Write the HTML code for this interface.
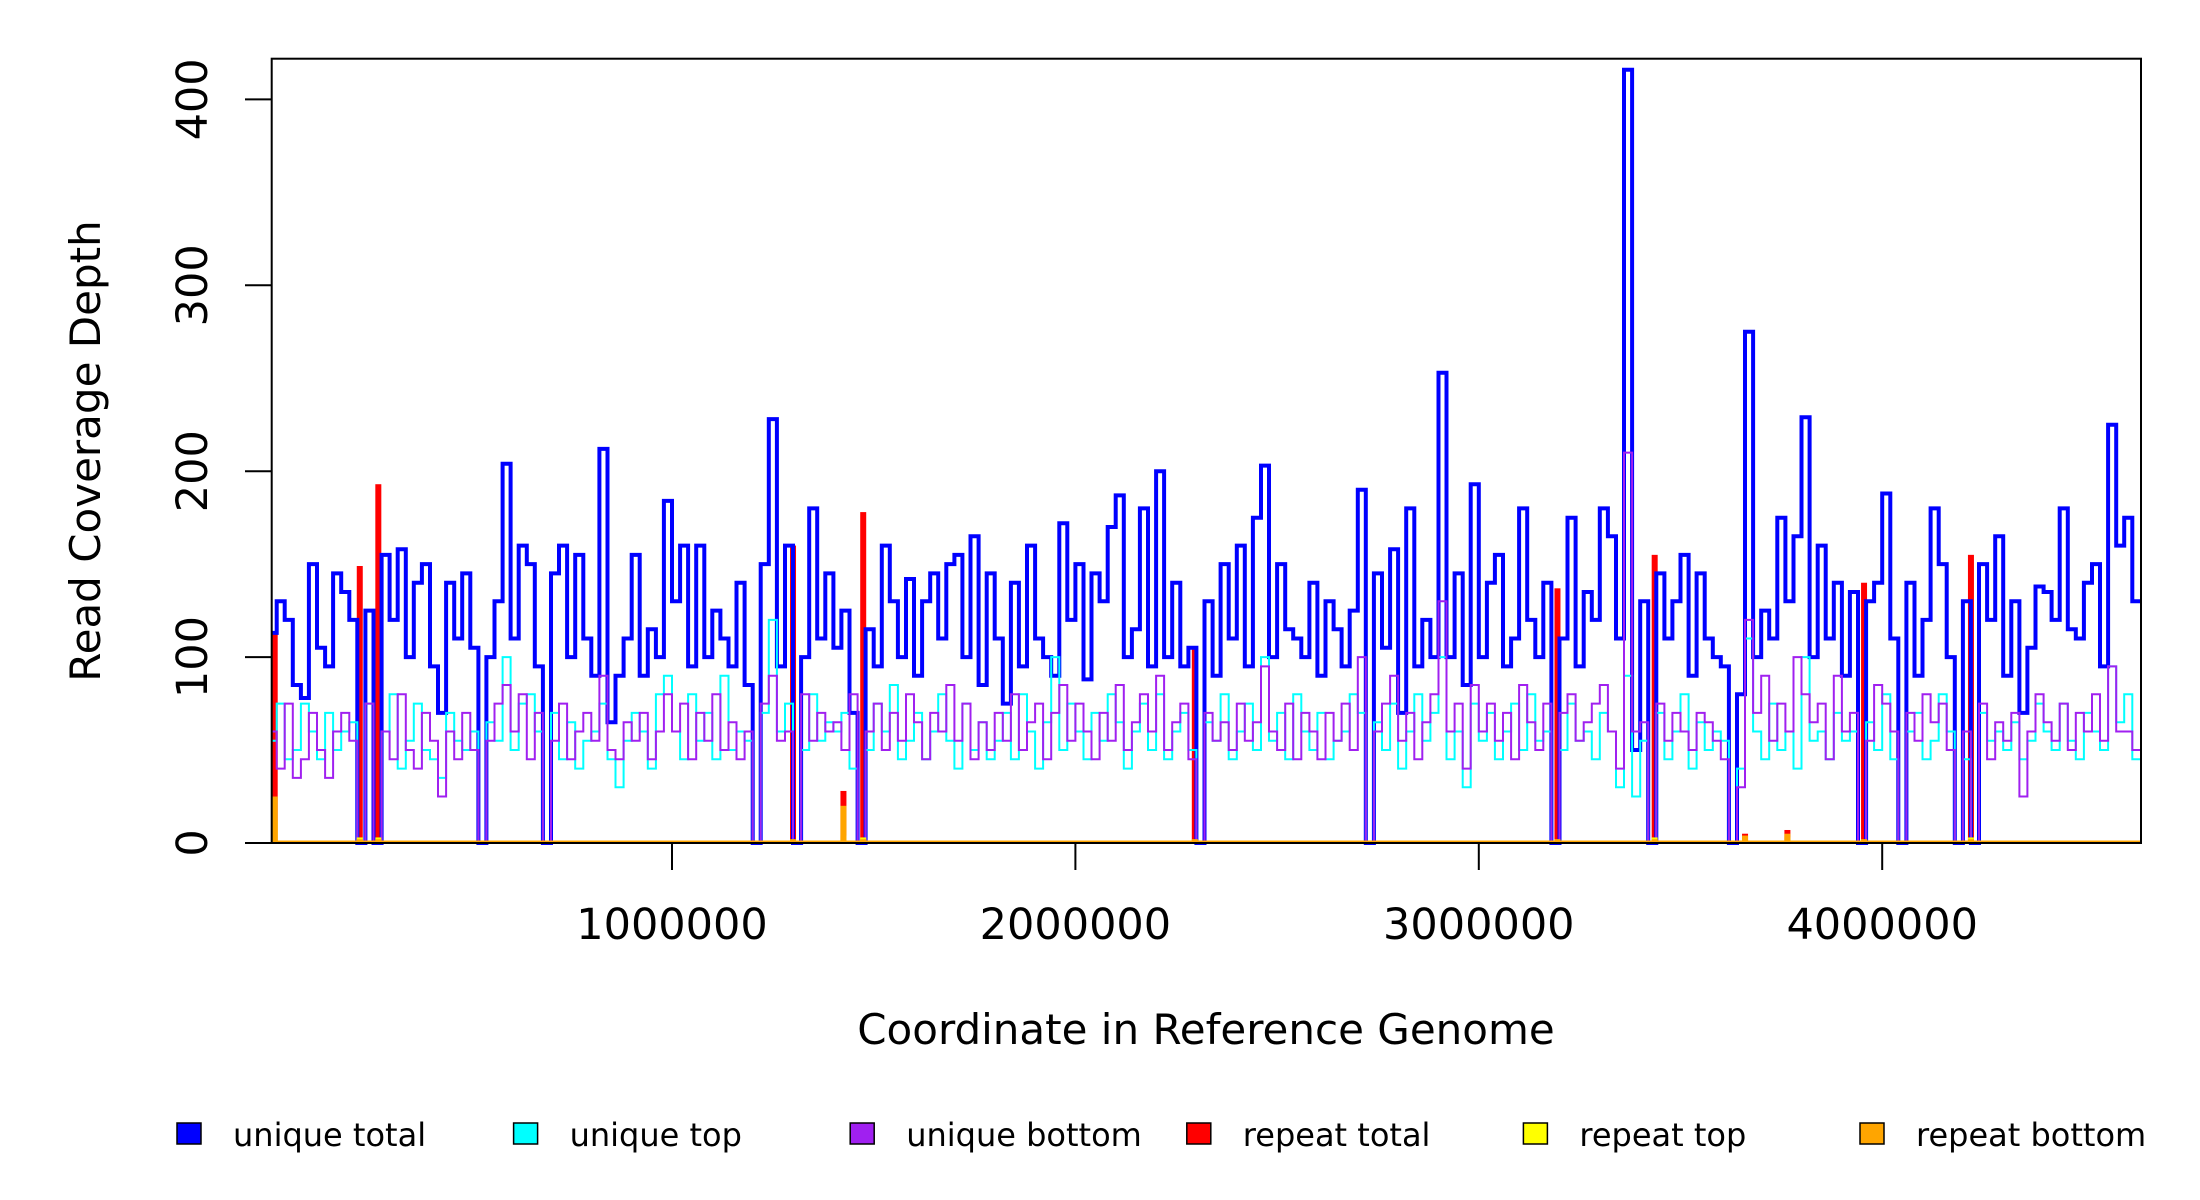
<!DOCTYPE html>
<html><head><meta charset="utf-8"><style>
body{margin:0;background:#fff}
svg{display:block}
text{font-family:"DejaVu Sans","Liberation Sans",sans-serif;fill:#000}
</style></head><body>
<svg id="chart" width="2200" height="1200" viewBox="0 0 2200 1200" xmlns="http://www.w3.org/2000/svg">
<g id="marks"></g>
<rect x="271.7" y="58.7" width="1869.3" height="784.3" fill="none" stroke="#000" stroke-width="2"/>
<g id="axes"></g>
<text transform="translate(100,451) rotate(-90)" text-anchor="middle" font-size="42">Read Coverage Depth</text>
<text x="1206" y="1044" text-anchor="middle" font-size="42">Coordinate in Reference Genome</text>
<g id="legend"></g>
</svg>
<script>
const binSize = 20000;
const uniqueTotal = [
113,130,120,85,78,150,105,95,145,135,
120,0,125,0,155,120,158,100,140,150,
95,70,140,110,145,105,0,100,130,204,
110,160,150,95,0,145,160,100,155,110,
90,212,65,90,110,155,90,115,100,184,
130,160,95,160,100,125,110,95,140,85,
0,150,228,95,160,0,100,180,110,145,
105,125,70,0,115,95,160,130,100,142,
90,130,145,110,150,155,100,165,85,145,
110,75,140,95,160,110,100,90,172,120,
150,88,145,130,170,187,100,115,180,95,
200,100,140,95,105,0,130,90,150,110,
160,95,175,203,100,150,115,110,100,140,
90,130,115,95,125,190,0,145,105,158,
70,180,95,120,100,253,100,145,85,193,
100,140,155,95,110,180,120,100,140,0,
110,175,95,135,120,180,165,110,416,50,
130,0,145,110,130,155,90,145,110,100,
95,0,80,275,100,125,110,175,130,165,
229,100,160,110,140,90,135,0,130,140,
188,110,0,140,90,120,180,150,100,0,
130,0,150,120,165,90,130,70,105,138,
135,120,180,115,110,140,150,95,225,160,
175,130];
const uniqueTop = [
55,75,45,50,75,60,45,70,50,60,
65,0,75,0,60,80,40,55,75,50,
45,35,70,55,50,60,0,65,55,100,
50,75,80,60,0,70,45,65,40,55,
60,75,45,30,55,70,60,40,80,90,
60,45,80,55,70,45,90,50,60,55,
0,70,120,60,75,0,50,80,55,65,
60,70,40,0,50,75,60,85,45,55,
70,45,60,80,55,40,75,50,65,45,
55,70,45,80,60,40,65,100,50,75,
60,45,70,55,80,65,40,60,75,50,
80,45,60,70,50,0,65,55,80,45,
60,75,50,100,55,70,45,80,60,50,
70,45,55,60,80,70,0,65,50,75,
40,60,80,55,70,100,45,60,30,75,
55,70,45,60,75,50,80,55,60,0,
50,75,55,60,45,70,60,30,90,25,
55,0,70,45,60,80,40,65,50,60,
55,0,40,110,60,45,75,50,60,40,
100,55,60,45,70,55,60,0,65,50,
80,45,0,60,70,45,55,80,60,0,
45,0,70,55,60,50,65,45,55,75,
60,50,75,55,45,70,60,50,95,65,
80,45];
const uniqueBottom = [
60,40,75,35,45,70,50,35,60,70,
55,0,75,0,60,45,80,50,40,70,
55,25,60,45,70,50,0,55,75,85,
60,80,45,70,0,55,75,45,60,70,
55,90,50,45,65,55,70,45,60,80,
60,75,45,70,55,80,50,65,45,60,
0,75,90,55,60,0,80,55,70,60,
65,50,80,0,60,75,50,70,55,80,
65,45,70,60,85,55,75,45,65,50,
70,55,80,50,65,75,45,70,85,55,
75,60,45,70,55,85,50,65,80,60,
90,50,65,75,45,0,70,55,65,50,
75,55,65,95,60,50,75,45,70,60,
45,70,55,75,50,100,0,60,75,90,
55,70,45,65,80,130,60,75,40,85,
60,75,55,70,45,85,65,50,75,0,
70,80,55,65,75,85,60,40,210,60,
65,0,75,55,70,60,50,70,65,55,
45,0,30,120,70,90,55,75,60,100,
80,65,75,45,90,60,70,0,55,85,
75,60,0,70,55,80,65,75,50,0,
60,0,75,45,65,55,70,25,60,80,
65,55,75,50,70,60,80,55,95,60,
60,50];
const repeatCoords = [5000,226000,272000,1300000,1425000,1474000,2296000,3195000,3436000,3660000,3765000,3955000,4220000];
const repeatTotal = [113,149,193,160,28,178,105,137,155,5,7,140,155];
const repeatTop = [12,3,3,2,4,3,2,2,3,2,3,2,3];
const repeatBottom = [25,2,2,2,20,2,2,2,2,4,5,2,2];
const yTicks = [0,100,200,300,400];
const xTicks = [1000000,2000000,3000000,4000000];
const legendLabels = ["unique total","unique top","unique bottom","repeat total","repeat top","repeat bottom"];
const legendColors = ["#0000ff","#00ffff","#a020f0","#ff0000","#ffff00","#ffa500"];

const NS = "http://www.w3.org/2000/svg";
const X0 = 268.6, PXPERBP = 403.4/1e6, XMAX = 2141;
const Y0 = 843, PXPERU = 1.859;
function xs(v){return Math.min(XMAX, X0 + v*PXPERBP);}
function ys(v){return Y0 - v*PXPERU;}
function mk(tag, attrs, parent){const e=document.createElementNS(NS,tag);for(const k in attrs)e.setAttribute(k,attrs[k]);parent.appendChild(e);return e;}
const marks = document.getElementById('marks');
function stepPath(vals){
  let d = "M"+Math.max(271.7,xs(0)).toFixed(1)+","+ys(vals[0]).toFixed(1);
  for(let i=0;i<vals.length;i++){
    if(i>0) d += "V"+ys(vals[i]).toFixed(1);
    d += "H"+xs((i+1)*binSize).toFixed(1);
  }
  return d;
}
function drawSpikes(vals,color,w,name){
  const g = mk('g',{},marks);
  
  
  for(let i=0;i<repeatCoords.length;i++){
    const r = mk('rect',{x:Math.max(271.7,xs(repeatCoords[i])-w/2),y:ys(vals[i]),width:w,height:Math.max(0,Y0-ys(vals[i])),fill:color},g);
    
    
  }
}
function drawStep(vals,color,w,name){
  const p = mk('path',{d:stepPath(vals),fill:'none',stroke:color,'stroke-width':w,'stroke-linejoin':'miter'},marks);
  
  
}
drawSpikes(repeatTotal,'#ff0000',6,'repeat-total-spikes');
drawStep(uniqueTotal,'#0000ff',4,'unique-total-line');
drawStep(uniqueTop,'#00ffff',2,'unique-top-line');
drawStep(uniqueBottom,'#a020f0',2,'unique-bottom-line');
drawSpikes(repeatTop,'#ffff00',6,'repeat-top-spikes');
drawSpikes(repeatBottom,'#ffa500',6,'repeat-bottom-spikes');
const base = mk('line',{x1:271.7,x2:XMAX,y1:Y0-1,y2:Y0-1,stroke:'#ffa500','stroke-width':3},marks);



const axes = document.getElementById('axes');
for(const t of yTicks){
  const l = mk('line',{x1:245,x2:271.7,y1:ys(t),y2:ys(t),stroke:'#000','stroke-width':2},axes);
  
  
  const tx = mk('text',{transform:`translate(207,${ys(t)}) rotate(-90)`,'text-anchor':'middle','font-size':43},axes);
  tx.textContent = t;
  
  
}
for(const t of xTicks){
  const l = mk('line',{x1:xs(t),x2:xs(t),y1:843,y2:870,stroke:'#000','stroke-width':2},axes);
  
  
  const tx = mk('text',{x:xs(t),y:939,'text-anchor':'middle','font-size':43},axes);
  tx.textContent = t;
  
  
}
const legend = document.getElementById('legend');
const legX = [177,513.6,850.2,1186.8,1523.4,1860];
for(let i=0;i<legendLabels.length;i++){
  const g = mk('g',{},legend);
  
  
  const r = mk('rect',{x:legX[i],y:1123,width:24,height:21,fill:legendColors[i],stroke:'#000','stroke-width':1.5},g);
  
  
  const tx = mk('text',{x:legX[i]+56,y:1146,'font-size':32},g);
  tx.textContent = legendLabels[i];
  
  
}
</script>
</body></html>
